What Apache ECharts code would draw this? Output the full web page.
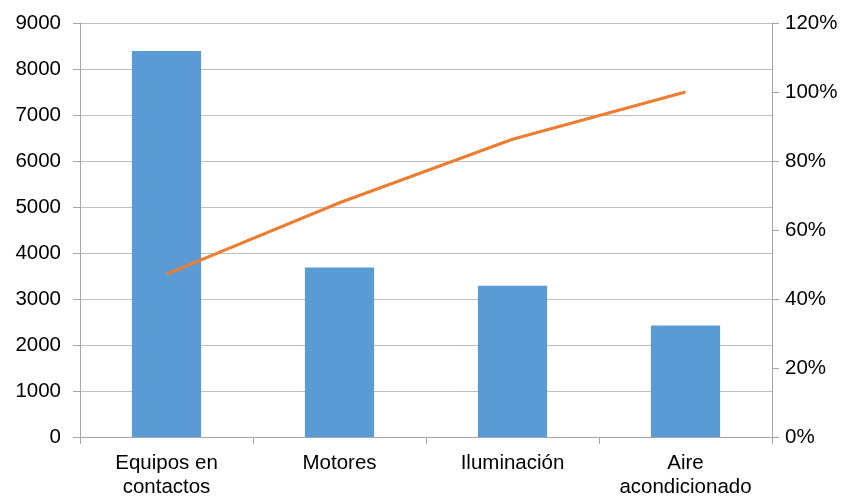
<!DOCTYPE html>
<html>
<head>
<meta charset="utf-8">
<script src="https://cdn.jsdelivr.net/npm/echarts@6/dist/echarts.min.js"></script>
<style>
  html, body { margin: 0; padding: 0; background: #ffffff; }
  #chart { width: 846px; height: 496px; }
</style>
</head>
<body>
<div id="chart"></div>
<script>
// Energy consumption per load type with cumulative share (Pareto)
const categories = ['Equipos en\ncontactos', 'Motores', 'Iluminación', 'Aire\nacondicionado'];
const consumo = [8390, 3685, 3287, 2425];
const acumulado = [47.2, 67.9, 86.3, 100];

const leftTicks = { min: 0, max: 9000, interval: 1000 };
const rightTicks = { min: 0, max: 120, interval: 20 };

const gray = '#A6A6A6';
const gridGray = '#BFBFBF';
const textColor = '#000000';
const font = 'Liberation Sans, Arial, sans-serif';

const chart = echarts.init(document.getElementById('chart'), null, { renderer: 'canvas' });

chart.setOption({
  animation: false,
  backgroundColor: '#ffffff',
  grid: { left: 80, right: 74, top: 23, bottom: 59, containLabel: false, outerBoundsMode: 'none' },
  xAxis: {
    type: 'category',
    data: categories,
    boundaryGap: true,
    axisLine: { show: true, lineStyle: { color: gray, width: 1 } },
    axisTick: { show: true, length: 7, alignWithLabel: false, lineStyle: { color: gray } },
    axisLabel: {
      color: textColor, fontFamily: font, fontSize: 20.5, margin: 14,
      lineHeight: 24, interval: 0
    },
    splitLine: { show: false }
  },
  yAxis: [
    {
      type: 'value',
      min: leftTicks.min, max: leftTicks.max, interval: leftTicks.interval,
      position: 'left',
      axisLine: { show: true, lineStyle: { color: gray, width: 1 } },
      axisTick: { show: true, inside: false, length: 7, lineStyle: { color: gray, width: 1 } },
      axisLabel: { color: textColor, fontFamily: font, fontSize: 20.5, margin: 19,
                   formatter: v => String(v) },
      splitLine: { show: true, lineStyle: { color: gridGray, width: 1 } }
    },
    {
      type: 'value',
      min: rightTicks.min, max: rightTicks.max, interval: rightTicks.interval,
      position: 'right',
      axisLine: { show: true, lineStyle: { color: gray, width: 1 } },
      axisTick: { show: true, inside: false, length: 7, lineStyle: { color: gray, width: 1 } },
      axisLabel: { color: textColor, fontFamily: font, fontSize: 20.5, margin: 13,
                   formatter: v => v + '%' },
      splitLine: { show: false }
    }
  ],
  series: [
    {
      name: 'Consumo',
      type: 'bar',
      yAxisIndex: 0,
      data: consumo,
      barWidth: '40%',
      itemStyle: { color: '#5B9BD5' }
    },
    {
      name: 'Acumulado',
      type: 'line',
      yAxisIndex: 1,
      data: acumulado,
      symbol: 'none',
      lineStyle: { color: '#ED7D31', width: 3 },
      z: 3
    }
  ]
});
</script>
</body>
</html>
